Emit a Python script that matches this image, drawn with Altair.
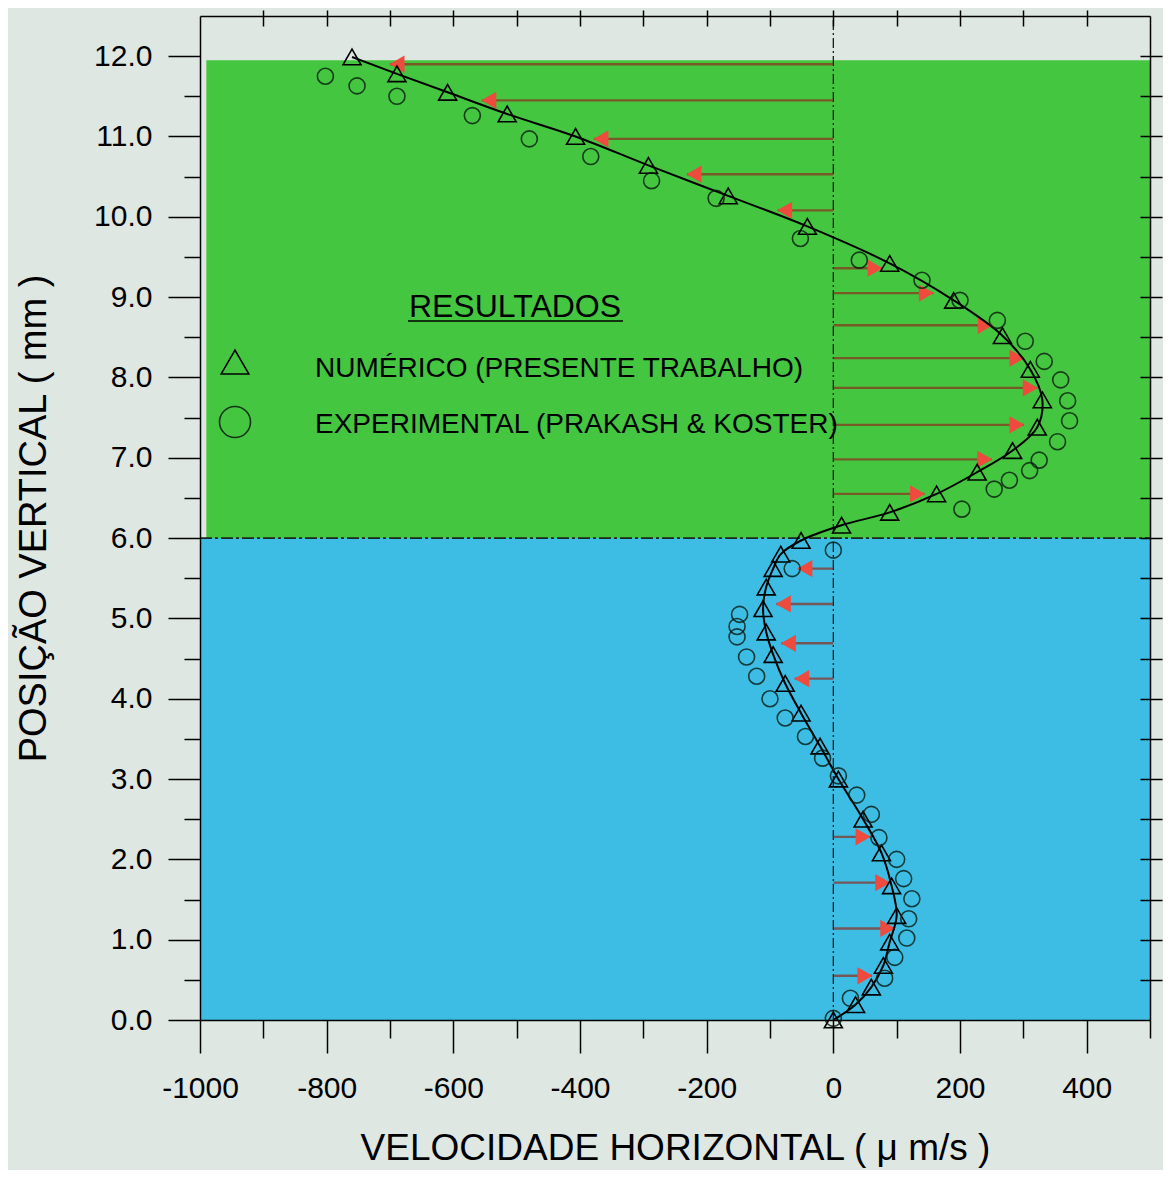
import altair as alt
import pandas as pd

# ---------------- data ----------------
# numerical results (triangles + solid line), velocity in µm/s, height in mm
num_y = [11.99, 11.78, 11.55, 11.28, 11.0, 10.64, 10.26, 9.88, 9.42, 8.96, 8.52, 8.1,
         7.72, 7.38, 7.09, 6.82, 6.55, 6.32, 6.16, 5.97, 5.8, 5.62, 5.39, 5.12, 4.83,
         4.55, 4.19, 3.82, 3.41, 3.0, 2.5, 2.08, 1.67, 1.3, 0.97, 0.68, 0.41, 0.19, 0.0]
num_x = [-760, -689, -609, -515, -407, -292, -166, -41, 89, 190, 267, 311,
         330, 322, 283, 227, 163, 89, 13, -51, -83, -95, -106, -111, -106,
         -95, -76, -51, -21, 8, 47, 76, 92, 100, 89, 79, 60, 35, 0]

# experimental results (circles)
exp_y = [11.75, 11.63, 11.5, 11.26, 10.97, 10.75, 10.45, 10.23, 9.73, 9.46, 9.21, 8.96,
         8.71, 8.45, 8.2, 7.97, 7.71, 7.46, 7.2, 6.97, 6.84, 6.72, 6.61, 6.36, 5.85,
         5.62, 5.05, 4.9, 4.77, 4.52, 4.28, 4.0, 3.76, 3.53, 3.26, 3.04, 2.8, 2.56,
         2.27, 2.0, 1.76, 1.51, 1.26, 1.02, 0.78, 0.52, 0.27, 0.02]
exp_x = [-802, -752, -689, -570, -480, -383, -287, -185, -52, 41, 140, 200,
         259, 303, 333, 359, 370, 373, 354, 325, 310, 278, 254, 203, 0,
         -65, -148, -152, -152, -137, -121, -100, -76, -44, -17, 8, 37, 60,
         72, 100, 111, 124, 119, 116, 97, 81, 27, 0]

# velocity arrows (height, tip velocity)
arrow_y = [11.9, 11.45, 10.97, 10.53, 10.08, 9.36, 9.05, 8.65, 8.24, 7.87, 7.41, 6.98,
           6.55, 5.62, 5.18, 4.69, 4.25, 2.28, 1.71, 1.14, 0.55]
arrow_x = [-700, -555, -378, -231, -88, 77, 158, 251, 301, 322, 301, 250,
           144, -56, -90, -82, -61, 58, 89, 97, 61]

# coloured fluid layers
layer_x0 = [-990, -1000]
layer_x1 = [500, 500]
layer_y0 = [6.0, 0.0]
layer_y1 = [11.95, 6.0]
layer_color = ["#45c640", "#3dbde4"]

# axis tick values
x_major = [-1000, -800, -600, -400, -200, 0, 200, 400]
x_minor = [-900, -700, -500, -300, -100, 100, 300, 500]
x_top = [-900, -800, -700, -600, -500, -400, -300, -200, -100, 0, 100, 200, 300, 400]
y_major = [0, 1, 2, 3, 4, 5, 6, 7, 8, 9, 10, 11, 12]
y_minor = [0.5, 1.5, 2.5, 3.5, 4.5, 5.5, 6.5, 7.5, 8.5, 9.5, 10.5, 11.5]
y_right = [0.5, 1.0, 1.5, 2.0, 2.5, 3.0, 3.5, 4.0, 4.5, 5.0, 5.5, 6.0, 6.5, 7.0,
           7.5, 8.0, 8.5, 9.0, 9.5, 10.0, 10.5, 11.0, 11.5, 12.0]

FONT = "Liberation Sans"

num_df = pd.DataFrame({"u": num_x, "y": num_y, "ordem": list(range(len(num_x)))})
exp_df = pd.DataFrame({"u": exp_x, "y": exp_y})
arr_df = pd.DataFrame({"u": arrow_x, "y": arrow_y})
arr_df["x0"] = 0
reg_df = pd.DataFrame({"x0": layer_x0, "x1": layer_x1, "y0": layer_y0,
                       "y1": layer_y1, "cor": layer_color})
zero_df = pd.DataFrame({"x": [0], "y0": [0.0], "y1": [12.5]})
mid_df = pd.DataFrame({"xa": [-1000], "xb": [500], "y": [6.0]})

XS = alt.Scale(domain=[-1000, 500], nice=False, zero=False)
YS = alt.Scale(domain=[0, 12.5], nice=False, zero=False)


def ax(**kw):
    base = dict(grid=False, zindex=1, tickColor="black", domainColor="black",
                labelColor="black", titleColor="black", labelFont=FONT,
                titleFont=FONT, titleFontWeight="normal", tickWidth=1.5,
                domainWidth=1.5)
    base.update(kw)
    return alt.Axis(**base)


bottom_major = ax(orient="bottom", values=x_major, tickSize=33, labelFontSize=30,
                  labelPadding=20, labelExpr="datum.value + ''", labelFlush=False,
                  labelOverlap=False,
                  title="VELOCIDADE HORIZONTAL  ( μ m/s )", titleFontSize=37,
                  titlePadding=27)
left_major = ax(orient="left", values=y_major, tickSize=32, labelFontSize=30,
                labelPadding=16, format=".1f", labelOverlap=False,
                title="POSIÇÃO VERTICAL  ( mm )", titleFontSize=38, titlePadding=40)
bottom_minor = ax(orient="bottom", values=x_minor, tickSize=18, labels=False,
                  domain=False, title=None)
left_minor = ax(orient="left", values=y_minor, tickSize=16, labels=False,
                domain=False, title=None)
top_cross = ax(orient="top", values=x_top, tickSize=16, offset=-10, labels=False,
               domain=False, title=None)
right_cross = ax(orient="right", values=y_right, tickSize=22, offset=-10,
                 labels=False, domain=False, title=None)
top_line = ax(orient="top", ticks=False, labels=False, domain=True, title=None)
right_line = ax(orient="right", ticks=False, labels=False, domain=True, title=None)

bg = alt.Chart(reg_df).mark_rect().encode(
    x=alt.X("x0:Q", scale=XS, axis=bottom_major),
    x2="x1:Q",
    y=alt.Y("y0:Q", scale=YS, axis=left_major),
    y2="y1:Q",
    color=alt.Color("cor:N", scale=None),
)

zero_line = alt.Chart(zero_df).mark_rule(
    color="#1a1a1a", strokeWidth=1.3, strokeDash=[10, 3, 2, 3]
).encode(
    x=alt.X("x:Q", scale=XS, axis=top_cross),
    y=alt.Y("y0:Q", scale=YS, axis=right_cross),
    y2="y1:Q",
)

mid_line = alt.Chart(mid_df).mark_rule(
    color="#1a2a1a", strokeWidth=1.6, strokeDash=[12, 3, 3, 3]
).encode(
    x=alt.X("xa:Q", scale=XS, axis=None),
    x2="xb:Q",
    y=alt.Y("y:Q", scale=YS, axis=None),
)

arrow_lines = alt.Chart(arr_df).mark_rule(
    color="#8e2c1c", strokeWidth=2.4, opacity=0.7
).encode(
    x=alt.X("x0:Q", scale=XS, axis=bottom_minor),
    x2="u:Q",
    y=alt.Y("y:Q", scale=YS, axis=left_minor),
)

heads_left = alt.Chart(arr_df).transform_filter("datum.u < 0").mark_point(
    shape="triangle-left", filled=True, fill="#ee4a3e", size=300, opacity=1,
    strokeWidth=0, xOffset=7
).encode(
    x=alt.X("u:Q", scale=XS, axis=None),
    y=alt.Y("y:Q", scale=YS, axis=None),
)

heads_right = alt.Chart(arr_df).transform_filter("datum.u > 0").mark_point(
    shape="triangle-right", filled=True, fill="#ee4a3e", size=300, opacity=1,
    strokeWidth=0, xOffset=-7
).encode(
    x=alt.X("u:Q", scale=XS, axis=None),
    y=alt.Y("y:Q", scale=YS, axis=None),
)

num_line = alt.Chart(num_df).mark_line(
    color="black", strokeWidth=2, interpolate="catmull-rom"
).encode(
    x=alt.X("u:Q", scale=XS, axis=top_line),
    y=alt.Y("y:Q", scale=YS, axis=right_line),
    order="ordem:Q",
)

num_pts = alt.Chart(num_df).mark_point(
    shape="triangle-up", filled=False, color="black", size=324, strokeWidth=1.6,
    opacity=1
).encode(
    x=alt.X("u:Q", scale=XS, axis=None),
    y=alt.Y("y:Q", scale=YS, axis=None),
)

exp_pts = alt.Chart(exp_df).mark_point(
    shape="circle", filled=False, color="#0a1a10", size=256, strokeWidth=1.6,
    opacity=0.8
).encode(
    x=alt.X("u:Q", scale=XS, axis=None),
    y=alt.Y("y:Q", scale=YS, axis=None),
)

one = pd.DataFrame({"k": [0]})

leg_title = alt.Chart(pd.DataFrame({"t": ["RESULTADOS"]})).mark_text(
    font=FONT, fontSize=32, color="black", align="center", baseline="alphabetic"
).encode(x=alt.value(315), y=alt.value(301), text="t:N")

leg_underline = alt.Chart(one).mark_rule(color="black", strokeWidth=1.6).encode(
    x=alt.value(208), x2=alt.value(423), y=alt.value(305)
)

leg_tri = alt.Chart(one).mark_point(
    shape="triangle-up", filled=False, color="black", size=760, strokeWidth=1.6,
    opacity=1
).encode(x=alt.value(35), y=alt.value(346))

leg_circ = alt.Chart(one).mark_point(
    shape="circle", filled=False, color="#0a1a10", size=960, strokeWidth=1.6,
    opacity=0.85
).encode(x=alt.value(35), y=alt.value(406))

leg_text1 = alt.Chart(pd.DataFrame({"t": ["NUMÉRICO (PRESENTE TRABALHO)"]})).mark_text(
    font=FONT, fontSize=28, color="black", align="left", baseline="alphabetic"
).encode(x=alt.value(115), y=alt.value(361), text="t:N")

leg_text2 = alt.Chart(pd.DataFrame({"t": ["EXPERIMENTAL (PRAKASH & KOSTER)"]})).mark_text(
    font=FONT, fontSize=28, color="black", align="left", baseline="alphabetic"
).encode(x=alt.value(115), y=alt.value(417), text="t:N")

chart = alt.layer(
    bg, mid_line, zero_line, arrow_lines, heads_left, heads_right,
    num_line, num_pts, exp_pts,
    leg_title, leg_underline, leg_tri, leg_circ, leg_text1, leg_text2,
).resolve_axis(
    x="independent", y="independent"
).properties(
    width=950,
    height=1004,
    autosize=alt.AutoSizeParams(type="none"),
    padding={"left": 192, "top": 8, "right": 13, "bottom": 150},
    background="#dfe7e2",
).configure_view(stroke=None)

chart.save("out.html", embed_options={"renderer": "svg", "actions": False})
